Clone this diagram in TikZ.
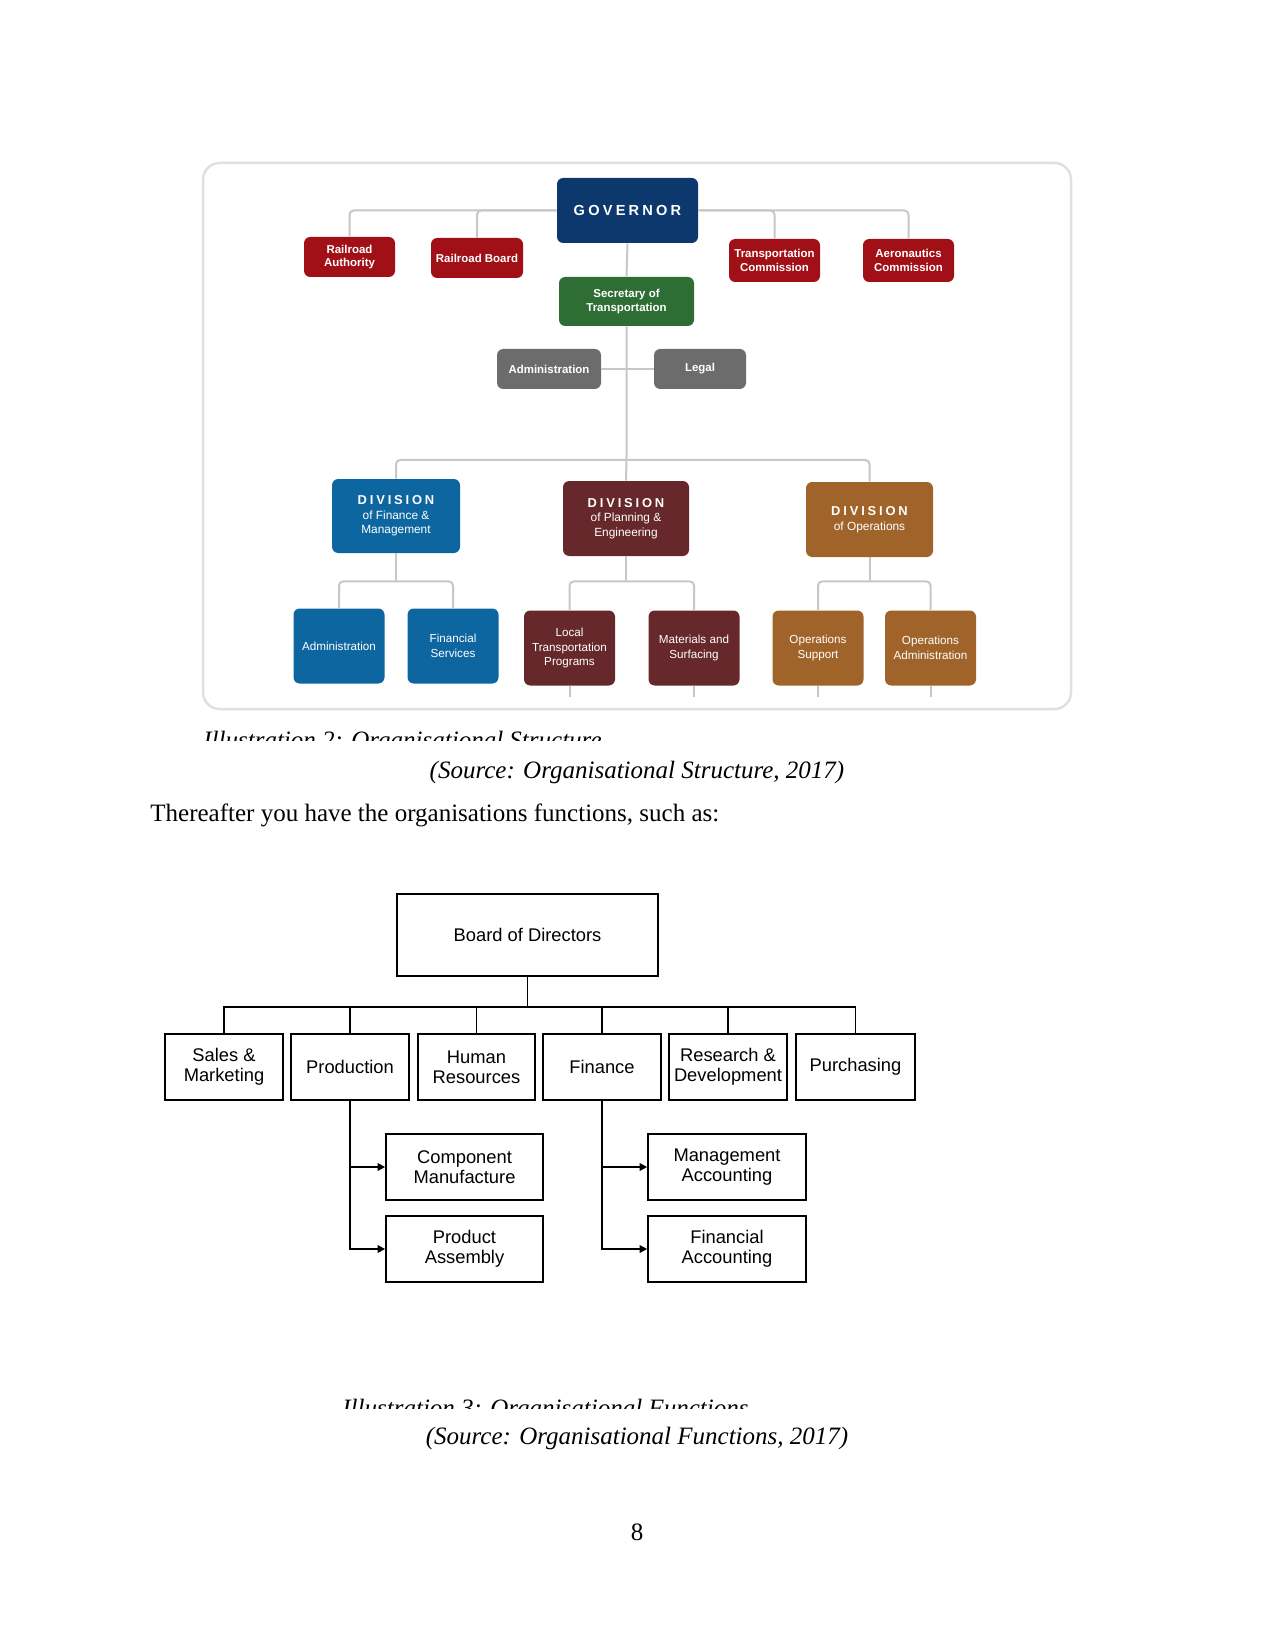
\documentclass[tikz,border=0pt]{standalone}
\usepackage{fontspec}
\setmainfont{Liberation Serif}
\newfontfamily\chartfont{Liberation Sans}
\newfontfamily\chartspaced[LetterSpace=22]{Liberation Sans}
\usetikzlibrary{arrows.meta,calc}

\newcommand\pxu{0.48pt}
\definecolor{govblue}{RGB}{12,56,110}
\definecolor{boardred}{RGB}{160,16,22}
\definecolor{secgreen}{RGB}{46,110,52}
\definecolor{staffgray}{RGB}{108,108,108}
\definecolor{finblue}{RGB}{14,102,160}
\definecolor{planred}{RGB}{102,40,42}
\definecolor{opbrown}{RGB}{160,100,42}

\tikzset{
  unitbox/.style={rounded corners=3pt, text=white, align=center, inner sep=0pt,
    font=\chartfont\bfseries\fontsize{5.5}{6.6}\selectfont},
  subbox/.style={unitbox, font=\chartfont\fontsize{5.6}{7}\selectfont,
    minimum width=91*\pxu, minimum height=75*\pxu},
  link/.style={draw=black!22, line width=2*\pxu, rounded corners=2pt},
  funcbox/.style={draw, line width=1.7*\pxu, align=center, inner sep=0pt,
    minimum height=66*\pxu, font=\chartfont\fontsize{8.8}{9.4}\selectfont},
  funclink/.style={draw, line width=1.7*\pxu},
  tip/.style={-{Triangle[length=3.6pt,width=3.6pt]}},
  pagetext/.style={inner sep=0pt, font=\fontsize{12}{14}\selectfont},
  pageitalic/.style={inner sep=0pt, font=\itshape\fontsize{12}{14}\selectfont}
}

\begin{document}
\begin{tikzpicture}[x=0.48pt,y=-0.48pt]
    \useasboundingbox (0,0) rectangle (1275,1650);
    \fill[white] (0,0) rectangle (1275,1650);

    % organisational structure
    \draw[black!12, line width=2.5*\pxu, rounded corners=8pt] (203,163) rectangle (1071,709);

    \node[unitbox, fill=govblue, minimum width=141*\pxu, minimum height=65*\pxu] (gov) at (627.5,210.5)
        {\chartspaced\bfseries\fontsize{7}{8}\selectfont GOVERNOR};
    \node[unitbox, fill=boardred, minimum width=91*\pxu, minimum height=40*\pxu] (rauth) at (349.5,257) {Railroad\\Authority};
    \node[unitbox, fill=boardred, minimum width=92*\pxu, minimum height=40*\pxu] (rboard) at (477,258) {Railroad Board};
    \node[unitbox, fill=boardred, minimum width=91*\pxu, minimum height=43*\pxu] (tcomm) at (774.5,260.5) {Transportation\\Commission};
    \node[unitbox, fill=boardred, minimum width=91*\pxu, minimum height=43*\pxu] (acomm) at (908.5,260.5) {Aeronautics\\Commission};
    \node[unitbox, fill=secgreen, minimum width=135*\pxu, minimum height=49*\pxu] (sec) at (626.5,301.5) {Secretary of\\Transportation};
    \node[unitbox, fill=staffgray, minimum width=104*\pxu, minimum height=40*\pxu] (admin) at (549,369) {Administration};
    \node[unitbox, fill=staffgray, minimum width=92*\pxu, minimum height=40*\pxu] (legal) at (700,369) {Legal};

    \node[unitbox, fill=finblue, minimum width=128*\pxu, minimum height=74*\pxu, font=\chartfont\fontsize{5.7}{7}\selectfont] (dfin) at (396,516)
        {{\chartspaced\bfseries\fontsize{6.2}{7}\selectfont DIVISION}\\of Finance \&\\Management};
    \node[unitbox, fill=planred, minimum width=126*\pxu, minimum height=75*\pxu, font=\chartfont\fontsize{5.7}{7}\selectfont] (dplan) at (626,518.5)
        {{\chartspaced\bfseries\fontsize{6.2}{7}\selectfont DIVISION}\\of Planning \&\\Engineering};
    \node[unitbox, fill=opbrown, minimum width=127*\pxu, minimum height=75*\pxu, font=\chartfont\fontsize{5.7}{7}\selectfont] (dops) at (869.5,519.5)
        {{\chartspaced\bfseries\fontsize{6.2}{7}\selectfont DIVISION}\\of Operations};

    \node[subbox, fill=finblue] (fadmin) at (339,646) {Administration};
    \node[subbox, fill=finblue] (fserv) at (453,646) {Financial\\Services};
    \node[subbox, fill=planred] (ltp) at (569.5,648) {Local\\Transportation\\Programs};
    \node[subbox, fill=planred] (msurf) at (694,648) {Materials and\\Surfacing};
    \node[subbox, fill=opbrown] (osup) at (818,648) {Operations\\Support};
    \node[subbox, fill=opbrown] (oadmin) at (930.5,648) {Operations\\Administration};

    \draw[link] (rauth.north) |- (gov.west);
    \draw[link] (rboard.north) |- (gov.west);
    \draw[link] (acomm.north) |- (gov.east);
    \draw[link] (tcomm.north) |- (gov.east);
    \draw[link] (gov.south) -- (sec.north);
    \draw[link] (admin.east) -- (legal.west);
    \coordinate (divbus) at (626.5,460);
    \draw[link] (sec.south) -- (divbus) -- (dplan.north);
    \draw[link] (dfin.north) |- (divbus) -| (dops.north);

    \coordinate (finbus) at ($(dfin.south)+(0,28)$);
    \draw[link] (dfin.south) -- (finbus);
    \draw[link] (fadmin.north) |- (finbus) -| (fserv.north);
    \coordinate (planbus) at ($(dplan.south)+(0,25)$);
    \draw[link] (dplan.south) -- (planbus);
    \draw[link] (ltp.north) |- (planbus) -| (msurf.north);
    \coordinate (opsbus) at ($(dops.south)+(0,24)$);
    \draw[link] (dops.south) -- (opsbus);
    \draw[link] (osup.north) |- (opsbus) -| (oadmin.north);
    \draw[link] (ltp.south) -- ++(0,11);
    \draw[link] (msurf.south) -- ++(0,11);
    \draw[link] (osup.south) -- ++(0,11);
    \draw[link] (oadmin.south) -- ++(0,11);

    \begin{scope}
        \clip (190,715) rectangle (720,740);
        \node[pageitalic, anchor=base west] (cap2) at (203,748) {Illustration 2: Organisational Structure};
    \end{scope}
    \node[pageitalic, anchor=base] (src2) at (637,778) {(Source: Organisational Structure, 2017)};
    \node[pagetext, anchor=base west] (intro) at (150,821) {Thereafter you have the organisations functions, such as:};

    % organisational functions
    \node[funcbox, minimum width=261*\pxu, minimum height=82*\pxu] (board) at (527.5,935) {Board of Directors};
    \node[funcbox, minimum width=118*\pxu] (sales) at (224,1067) {Sales \&\\Marketing};
    \node[funcbox, minimum width=118*\pxu] (prod) at (350,1067) {Production};
    \node[funcbox, minimum width=117*\pxu] (hr) at (476.5,1067) {Human\\Resources};
    \node[funcbox, minimum width=118*\pxu] (fin) at (602,1067) {Finance};
    \node[funcbox, minimum width=118*\pxu] (rnd) at (728,1067) {Research \&\\Development};
    \node[funcbox, minimum width=119*\pxu] (purch) at (855.5,1067) {Purchasing};
    \node[funcbox, minimum width=157*\pxu] (comp) at (464.5,1167) {Component\\Manufacture};
    \node[funcbox, minimum width=157*\pxu] (assem) at (464.5,1249) {Product\\Assembly};
    \node[funcbox, minimum width=158*\pxu] (mgmt) at (727,1167) {Management\\Accounting};
    \node[funcbox, minimum width=158*\pxu] (facc) at (727,1249) {Financial\\Accounting};

    \coordinate (funcbus) at (527.5,1007);
    \draw[funclink] (board.south) -- (funcbus);
    \draw[funclink] (sales.north) |- (funcbus) -| (purch.north);
    \draw[funclink] (prod.north) -- (prod.north |- funcbus);
    \draw[funclink] (hr.north) -- (hr.north |- funcbus);
    \draw[funclink] (fin.north) -- (fin.north |- funcbus);
    \draw[funclink] (rnd.north) -- (rnd.north |- funcbus);
    \draw[funclink, tip] (prod.south) |- (assem.west);
    \draw[funclink, tip] (prod.south |- comp.west) -- (comp.west);
    \draw[funclink, tip] (fin.south) |- (facc.west);
    \draw[funclink, tip] (fin.south |- mgmt.west) -- (mgmt.west);

    \begin{scope}
        \clip (320,1380) rectangle (780,1408);
        \node[pageitalic, anchor=base west] (cap3) at (342,1416) {Illustration 3: Organisational Functions};
    \end{scope}
    \node[pageitalic, anchor=base] (src3) at (637,1444) {(Source: Organisational Functions, 2017)};
    \node[pagetext, anchor=base] (pagenum) at (637,1540) {8};
\end{tikzpicture}
\end{document}
